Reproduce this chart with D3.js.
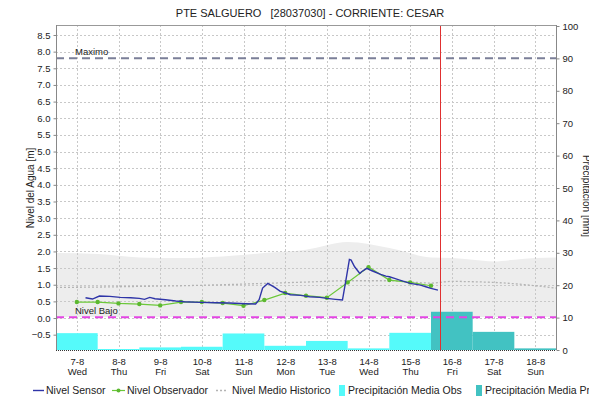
<!DOCTYPE html>
<html>
<head>
<meta charset="utf-8">
<script src="https://cdn.jsdelivr.net/npm/d3@7"></script>
<style>
  html, body { margin: 0; padding: 0; background: #fff; }
  svg { display: block; font-family: "Liberation Sans", Arial, sans-serif; }
  text { white-space: pre; }
</style>
</head>
<body>
<svg id="chart" width="589" height="404"></svg>
<script>
// ---- data (hours counted from 7 Aug 00:00) ----
const sensorHours = [17,21,25,31,37,43,48,51,54,57,63,69,74,83,92,100,109,115,117,119,122,126,129,135,141,146,152,156,161,165,167,169,170,172,175,176,179,182,187,190,192,195,198,204,210,213,216,220];
const sensorLevel = [0.61,0.57,0.66,0.65,0.62,0.61,0.59,0.56,0.62,0.58,0.55,0.51,0.49,0.47,0.46,0.45,0.43,0.42,0.55,0.90,1.04,0.92,0.81,0.70,0.68,0.64,0.62,0.59,0.56,0.54,1.14,1.76,1.74,1.54,1.34,1.39,1.49,1.42,1.31,1.26,1.24,1.19,1.14,1.04,0.99,0.94,0.89,0.84];

const obsHours = [12,24,36,48,60,72,84,96,108,120,132,144,156,168,180,192,204,216];
const obsLevel = [0.48,0.48,0.44,0.42,0.38,0.48,0.48,0.45,0.37,0.54,0.75,0.67,0.61,1.07,1.53,1.14,1.07,0.97];

const histHours = [0,24,48,72,96,120,144,168,192,216,228,240,252,264,276,288];
const histMean  = [0.92,0.93,0.95,0.97,1.00,1.04,1.08,1.12,1.12,1.05,1.10,1.09,1.07,1.03,0.97,0.90];
const histMax   = [1.95,1.92,1.82,1.80,1.85,1.95,2.05,2.28,2.10,1.82,1.80,1.75,1.70,1.75,1.80,1.82];
const histMin   = [0.03,0.03,0.03,0.03,0.03,0.03,0.03,0.03,0.03,0.03,0.03,0.03,0.03,0.03,0.03,0.03];

const precipObsDays  = ["2024-08-07","2024-08-08","2024-08-09","2024-08-10","2024-08-11","2024-08-12","2024-08-13","2024-08-14","2024-08-15"];
const precipObs      = [5.2,0.3,0.8,1.0,5.1,1.3,2.8,0.5,5.3];
const precipProDays  = ["2024-08-16","2024-08-17","2024-08-18"];
const precipPro      = [11.8,5.6,0.5];

const levelMax = 7.8;
const levelLow = 0.02;
const nowHour = 221;

const levelTicks = [-0.5,0,0.5,1,1.5,2,2.5,3,3.5,4,4.5,5,5.5,6,6.5,7,7.5,8,8.5];
const precipTicks = [0,10,20,30,40,50,60,70,80,90,100];

const titleText = "PTE SALGUERO   [28037030] - CORRIENTE: CESAR";
const legendItems = ["Nivel Sensor","Nivel Observador","Nivel Medio Historico","Precipitación Media Obs","Precipitación Media Pro"];

// ---- layout ----
const svg = d3.select("#chart");
const L = 56, R = 556, T = 25, B = 350;
const t0 = Date.UTC(2024, 7, 7);
const hour = h => new Date(t0 + h * 3600e3);

const x = d3.scaleUtc().domain([hour(0), hour(288)]).range([L, R]);
const y = d3.scaleLinear().domain([-0.96, 8.8]).range([B, T]);
const yP = d3.scaleLinear().domain([0, 100]).range([B, 26]);

const days = d3.utcDay.range(hour(0), hour(288));
const noon = d => d3.utcHour.offset(d, 12);

// historic range band
svg.append("path")
  .datum(histHours.map((h, i) => [h, histMin[i], histMax[i]]))
  .attr("fill", "#ededed")
  .attr("d", d3.area().curve(d3.curveMonotoneX)
    .x(d => x(hour(d[0]))).y0(d => y(d[1])).y1(d => y(d[2])));

// grid
const grid = svg.append("g").attr("stroke", "#c8c8c8").attr("stroke-dasharray", "2,2").attr("stroke-width", 1);
levelTicks.forEach(v => grid.append("line").attr("x1", L).attr("x2", R).attr("y1", Math.round(y(v)) + 0.5).attr("y2", Math.round(y(v)) + 0.5));
days.forEach(d => grid.append("line").attr("x1", Math.round(x(noon(d))) + 0.5).attr("x2", Math.round(x(noon(d))) + 0.5).attr("y1", T).attr("y2", B));

// precipitation bars
const barG = svg.append("g");
precipObsDays.forEach((d, i) => {
  const a = new Date(d + "T00:00:00Z"), b = d3.utcDay.offset(a, 1);
  barG.append("rect").attr("x", x(a)).attr("width", x(b) - x(a))
    .attr("y", yP(precipObs[i])).attr("height", B - yP(precipObs[i])).attr("fill", "#55fafa");
});
precipProDays.forEach((d, i) => {
  const a = new Date(d + "T00:00:00Z"), b = d3.utcDay.offset(a, 1);
  barG.append("rect").attr("x", x(a)).attr("width", x(b) - x(a))
    .attr("y", yP(precipPro[i])).attr("height", B - yP(precipPro[i])).attr("fill", "#42c2c2");
});

// reference levels
svg.append("line").attr("x1", L).attr("x2", R).attr("y1", y(levelMax)).attr("y2", y(levelMax))
  .attr("stroke", "#7b7f98").attr("stroke-width", 2).attr("stroke-dasharray", "8,5");
svg.append("line").attr("x1", L).attr("x2", R).attr("y1", y(levelLow)).attr("y2", y(levelLow))
  .attr("stroke", "#e445e4").attr("stroke-width", 2).attr("stroke-dasharray", "8,5");
svg.append("text").attr("x", 75).attr("y", y(levelMax) - 3).attr("font-size", 9.5).attr("fill", "#222").text("Maximo");
svg.append("text").attr("x", 75).attr("y", y(levelLow) - 3).attr("font-size", 9.5).attr("fill", "#222").text("Nivel Bajo");

// historic mean
svg.append("path")
  .datum(histHours.map((h, i) => [h, histMean[i]]))
  .attr("fill", "none").attr("stroke", "#b4b4b4").attr("stroke-width", 1.3).attr("stroke-dasharray", "2,2")
  .attr("d", d3.line().curve(d3.curveMonotoneX).x(d => x(hour(d[0]))).y(d => y(d[1])));

// observer line + markers
const obs = obsHours.map((h, i) => [h, obsLevel[i]]);
svg.append("path").datum(obs)
  .attr("fill", "none").attr("stroke", "#6cc83a").attr("stroke-width", 1.2)
  .attr("d", d3.line().x(d => x(hour(d[0]))).y(d => y(d[1])));
svg.append("g").selectAll("circle").data(obs).join("circle")
  .attr("cx", d => x(hour(d[0]))).attr("cy", d => y(d[1])).attr("r", 2.2).attr("fill", "#5cb830");

// sensor line
svg.append("path")
  .datum(sensorHours.map((h, i) => [h, sensorLevel[i]]))
  .attr("fill", "none").attr("stroke", "#2f35a8").attr("stroke-width", 1.4)
  .attr("d", d3.line().x(d => x(hour(d[0]))).y(d => y(d[1])));

// current time marker
const nowX = Math.round(x(hour(nowHour))) + 0.5;
svg.append("line").attr("x1", nowX).attr("x2", nowX).attr("y1", T).attr("y2", B)
  .attr("stroke", "#e03030").attr("stroke-width", 1);

// frame
svg.append("line").attr("x1", L).attr("x2", R).attr("y1", T + 0.5).attr("y2", T + 0.5).attr("stroke", "#999");

// left axis
const axL = svg.append("g").attr("transform", `translate(${L + 0.5},0)`)
  .call(d3.axisLeft(y).tickValues(levelTicks).tickFormat(d3.format(".1f")).tickSize(3).tickPadding(3));
axL.select(".domain").attr("stroke", "#888").attr("d", `M0,${T}V${B}`);
axL.selectAll(".tick line").attr("stroke", "#888");
axL.selectAll("text").attr("font-size", 9.5).attr("fill", "#222").attr("font-family", "Liberation Sans, Arial");

// right axis
const axR = svg.append("g").attr("transform", `translate(${R + 0.5},0)`)
  .call(d3.axisRight(yP).tickValues(precipTicks).tickFormat(d3.format("d")).tickSize(3).tickPadding(3));
axR.select(".domain").attr("stroke", "#888").attr("d", `M0,${T}V${B}`);
axR.selectAll(".tick line").attr("stroke", "#888");
axR.selectAll("text").attr("font-size", 9.5).attr("fill", "#222").attr("font-family", "Liberation Sans, Arial");

// bottom axis: fine hourly ticks, day labels centred on each day
svg.append("line").attr("x1", L).attr("x2", R).attr("y1", B + 0.5).attr("y2", B + 0.5)
  .attr("stroke", "#333").attr("stroke-dasharray", "1,1");
const axB = svg.append("g").attr("transform", `translate(0,${B})`)
  .call(d3.axisBottom(x).tickValues(days.map(noon)).tickSize(0).tickPadding(8).tickFormat(d3.utcFormat("%-d-%-m")));
axB.select(".domain").remove();
axB.selectAll("text").attr("font-size", 9.5).attr("fill", "#222").attr("font-family", "Liberation Sans, Arial");
axB.selectAll(".tick").append("text").attr("y", 25).attr("fill", "#222").attr("font-size", 9.5)
  .attr("font-family", "Liberation Sans, Arial").text(d => d3.utcFormat("%a")(d));

// titles
svg.append("text").attr("x", 310).attr("y", 17).attr("text-anchor", "middle").attr("font-size", 11).attr("fill", "#222").text(titleText);
svg.append("text").attr("transform", "translate(34,188) rotate(-90)").attr("text-anchor", "middle")
  .attr("font-size", 10).attr("fill", "#222").text("Nivel del Agua [m]");
svg.append("text").attr("transform", "translate(583,196) rotate(90)").attr("text-anchor", "middle")
  .attr("font-size", 10).attr("fill", "#222").text("Precipitación [mm]");

// legend
const lg = svg.append("g").attr("font-size", 10.5).attr("fill", "#222");
const ly = 394;
lg.append("line").attr("x1", 33).attr("x2", 44).attr("y1", ly - 3.5).attr("y2", ly - 3.5).attr("stroke", "#2f35a8").attr("stroke-width", 1.4);
lg.append("text").attr("x", 46).attr("y", ly).text(legendItems[0]);
lg.append("line").attr("x1", 112).attr("x2", 125).attr("y1", ly - 3.5).attr("y2", ly - 3.5).attr("stroke", "#6cc83a").attr("stroke-width", 1.2);
lg.append("circle").attr("cx", 118.5).attr("cy", ly - 3.5).attr("r", 2).attr("fill", "#5cb830");
lg.append("text").attr("x", 127).attr("y", ly).text(legendItems[1]);
lg.append("line").attr("x1", 216).attr("x2", 228).attr("y1", ly - 3.5).attr("y2", ly - 3.5).attr("stroke", "#b4b4b4").attr("stroke-width", 1.3).attr("stroke-dasharray", "2,2");
lg.append("text").attr("x", 232).attr("y", ly).text(legendItems[2]);
lg.append("rect").attr("x", 339).attr("y", ly - 9).attr("width", 6).attr("height", 11).attr("fill", "#55fafa");
lg.append("text").attr("x", 348).attr("y", ly).text(legendItems[3]);
lg.append("rect").attr("x", 476).attr("y", ly - 9).attr("width", 6).attr("height", 11).attr("fill", "#42c2c2");
lg.append("text").attr("x", 485).attr("y", ly).text(legendItems[4]);
</script>
</body>
</html>
